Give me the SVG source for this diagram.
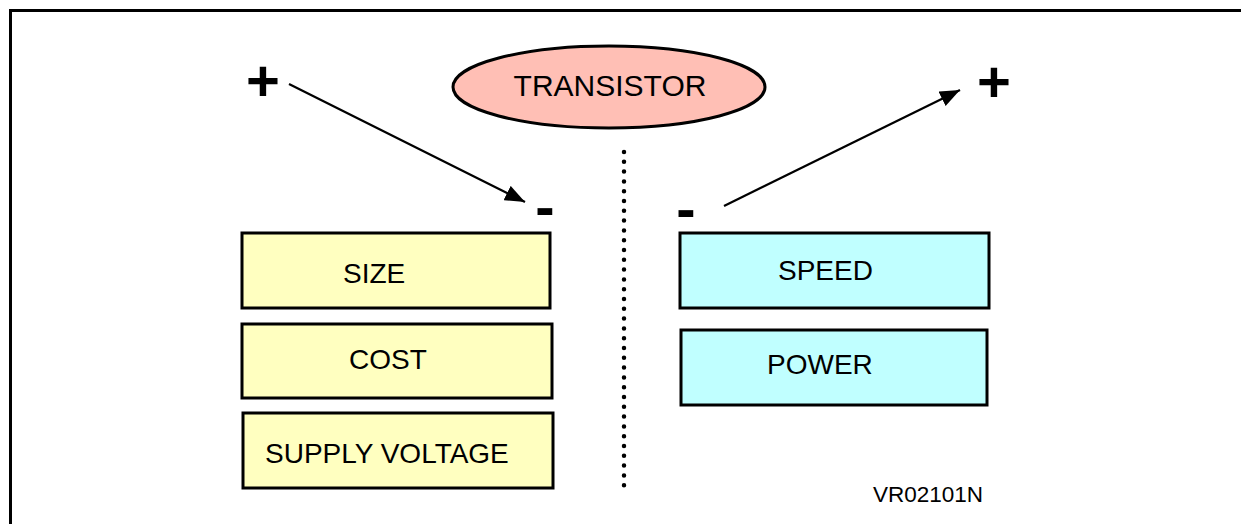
<svg xmlns="http://www.w3.org/2000/svg" width="1241" height="524" viewBox="0 0 1241 524">
<style>
  text { font-family: "Liberation Sans", Arial, sans-serif; fill: #000; }
  .lbl { font-size: 28px; }
  .sign { font-size: 58px; font-weight: bold; }
  .ybox { fill: #FFFFC0; stroke: #000; stroke-width: 3; }
  .cbox { fill: #C0FFFF; stroke: #000; stroke-width: 3; }
  .conn { stroke: #000; stroke-width: 2.2; fill: none; }
</style>
<defs>
  <marker id="arrow" viewBox="0 0 20 16" refX="20" refY="8" markerWidth="20" markerHeight="16" markerUnits="userSpaceOnUse" orient="auto">
    <path d="M0,0 L20,8 L0,16 Z" fill="#000"/>
  </marker>
</defs>
<rect x="0" y="0" width="1241" height="524" fill="#fff"/>
<g id="frame">
  <line x1="10" y1="10.5" x2="1241" y2="10.5" stroke="#000" stroke-width="3"/>
  <line x1="10.5" y1="9" x2="10.5" y2="524" stroke="#000" stroke-width="3"/>
</g>
<g id="transistor">
  <ellipse cx="609" cy="87" rx="156" ry="41" fill="#FFBFB5" stroke="#000" stroke-width="3"/>
  <text x="610" y="96" font-size="30" text-anchor="middle">TRANSISTOR</text>
</g>
<g id="size">
  <rect class="ybox" x="242" y="233" width="308" height="75"/>
  <text class="lbl" x="343" y="283">SIZE</text>
</g>
<g id="cost">
  <rect class="ybox" x="242" y="324" width="310" height="74"/>
  <text class="lbl" x="349" y="369">COST</text>
</g>
<g id="supply-voltage">
  <rect class="ybox" x="243" y="413" width="310" height="75"/>
  <text class="lbl" x="265" y="463">SUPPLY VOLTAGE</text>
</g>
<g id="speed">
  <rect class="cbox" x="680" y="233" width="309" height="75"/>
  <text class="lbl" x="778" y="280">SPEED</text>
</g>
<g id="power">
  <rect class="cbox" x="681" y="330" width="306" height="75"/>
  <text class="lbl" x="767" y="374">POWER</text>
</g>
<g id="signs">
  <text class="sign" x="263" y="101" text-anchor="middle">+</text>
  <text class="sign" x="994" y="102" text-anchor="middle">+</text>
  <text class="sign" x="545" y="227" text-anchor="middle">-</text>
  <text class="sign" x="686" y="229" text-anchor="middle">-</text>
</g>
<g id="connectors">
  <line class="conn" x1="289" y1="84" x2="525" y2="202" marker-end="url(#arrow)"/>
  <line class="conn" x1="724" y1="206" x2="960" y2="90" marker-end="url(#arrow)"/>
  <line x1="624" y1="152" x2="624" y2="489" stroke="#000" stroke-width="4.5" stroke-linecap="round" stroke-dasharray="0 9.8"/>
</g>
<g id="ref">
  <text x="873" y="502" font-size="22.5">VR02101N</text>
</g>
</svg>
